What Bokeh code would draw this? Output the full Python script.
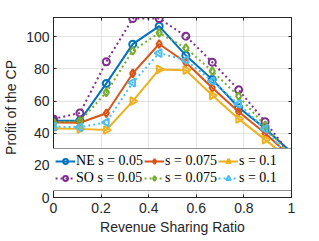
import numpy as np
from bokeh.plotting import figure
from bokeh.models import Range1d, LinearAxis, Legend, LegendItem, FixedTicker
from bokeh.embed import file_html
from bokeh.resources import INLINE

ratio = [0.0, 0.111, 0.222, 0.333, 0.444, 0.556, 0.667, 0.778, 0.889, 1.0]
ne_005 = [47.8, 47.8, 71.0, 95.4, 106.6, 88.4, 73.5, 56.0, 43.0, 28.0]
ne_0075 = [46.6, 46.5, 52.4, 77.2, 95.5, 84.0, 68.3, 53.4, 40.0, 25.0]
ne_01 = [43.0, 42.7, 42.0, 60.0, 79.7, 79.2, 63.6, 48.9, 36.0, 23.0]
so_005 = [48.9, 52.6, 84.5, 111.4, 111.4, 100.4, 84.2, 67.0, 47.2, 26.0]
so_0075 = [46.8, 47.5, 65.4, 91.3, 102.4, 93.0, 78.6, 63.0, 44.7, 25.0]
so_01 = [44.1, 43.7, 46.8, 71.5, 89.9, 85.5, 72.4, 58.2, 42.7, 23.0]
x_ticks = [0, 0.2, 0.4, 0.6, 0.8, 1]
y_ticks = [0, 20, 40, 60, 80, 100]

series = [
    ("NE s = 0.05", ne_005, "#0072BD", "solid", "circle", 0.0),
    ("s = 0.075", ne_0075, "#D95319", "solid", "diamond", 0.0),
    ("s = 0.1", ne_01, "#EDB120", "solid", "triangle", -np.pi / 2),
    ("SO s = 0.05", so_005, "#7E2F8E", "2 3", "circle", 0.0),
    ("s = 0.075", so_0075, "#77AC30", "2 3", "diamond", 0.0),
    ("s = 0.1", so_01, "#4DBEEE", "2 3", "triangle", np.pi / 2),
]

p = figure(frame_width=238, frame_height=180, output_backend="svg",
           toolbar_location=None, x_range=Range1d(0, 1), y_range=Range1d(0, 112),
           min_border_left=42, min_border_top=17, min_border_right=16,
           min_border_bottom=38)
p.background_fill_color = "white"
p.border_fill_color = "white"
p.outline_line_color = "#262626"
p.outline_line_width = 1

axis_color = "#262626"
for ax in (p.xaxis[0], p.yaxis[0]):
    ax.axis_line_color = axis_color
    ax.major_tick_line_color = axis_color
    ax.major_tick_in = 3
    ax.major_tick_out = 0
    ax.minor_tick_line_color = None
    ax.major_label_text_font = "Liberation Sans"
    ax.major_label_text_font_size = "14px"
    ax.major_label_text_color = "#262626"
    ax.axis_label_text_font = "Liberation Sans"
    ax.axis_label_text_font_size = "14px"
    ax.axis_label_text_font_style = "normal"
    ax.axis_label_text_color = "#262626"
p.xaxis.ticker = FixedTicker(ticks=x_ticks)
p.yaxis.ticker = FixedTicker(ticks=y_ticks)
p.xaxis.axis_label = "Revenue Sharing Ratio"
p.yaxis.axis_label = "Profit of the CP"
p.xaxis.major_label_standoff = 5
p.yaxis.major_label_standoff = 4
p.xaxis.axis_label_standoff = 3
p.yaxis.axis_label_standoff = 4

top = LinearAxis(ticker=FixedTicker(ticks=x_ticks),
                 major_label_overrides={t: "" for t in x_ticks},
                 major_tick_in=3, major_tick_out=0, minor_tick_line_color=None,
                 axis_line_color=axis_color, major_tick_line_color=axis_color,
                 major_label_standoff=0)
right = LinearAxis(ticker=FixedTicker(ticks=y_ticks),
                   major_label_overrides={t: "" for t in y_ticks},
                   major_tick_in=3, major_tick_out=0, minor_tick_line_color=None,
                   axis_line_color=axis_color, major_tick_line_color=axis_color,
                   major_label_standoff=0)
p.add_layout(top, "above")
p.add_layout(right, "right")

p.xgrid.ticker = FixedTicker(ticks=x_ticks)
p.ygrid.ticker = FixedTicker(ticks=y_ticks)
p.grid.grid_line_color = "#e3e3e3"
p.grid.grid_line_width = 1

items = []
for label, vals, color, dash, marker, ang in series:
    r1 = p.line(ratio, vals, line_color=color, line_width=2, line_dash=dash)
    r2 = p.scatter(ratio, vals, marker=marker, angle=ang, size=8 if marker != "circle" else 7,
                   line_color=color, line_width=2, fill_color=None)
    items.append(LegendItem(label=label, renderers=[r1, r2]))

legend = Legend(items=items, orientation="horizontal", ncols=3, location="bottom_center")
legend.label_text_font = "Liberation Serif"
legend.label_text_font_size = "14px"
legend.label_text_color = "#000000"
legend.glyph_width = 20
legend.glyph_height = 12
legend.label_standoff = 1
legend.label_height = 12
legend.label_width = 50
legend.spacing = 1
legend.padding = 4
legend.margin = 6
legend.border_line_color = "#262626"
legend.border_line_width = 1
legend.background_fill_alpha = 1
p.add_layout(legend, "center")

open("out.html", "w").write(file_html(p, INLINE))
